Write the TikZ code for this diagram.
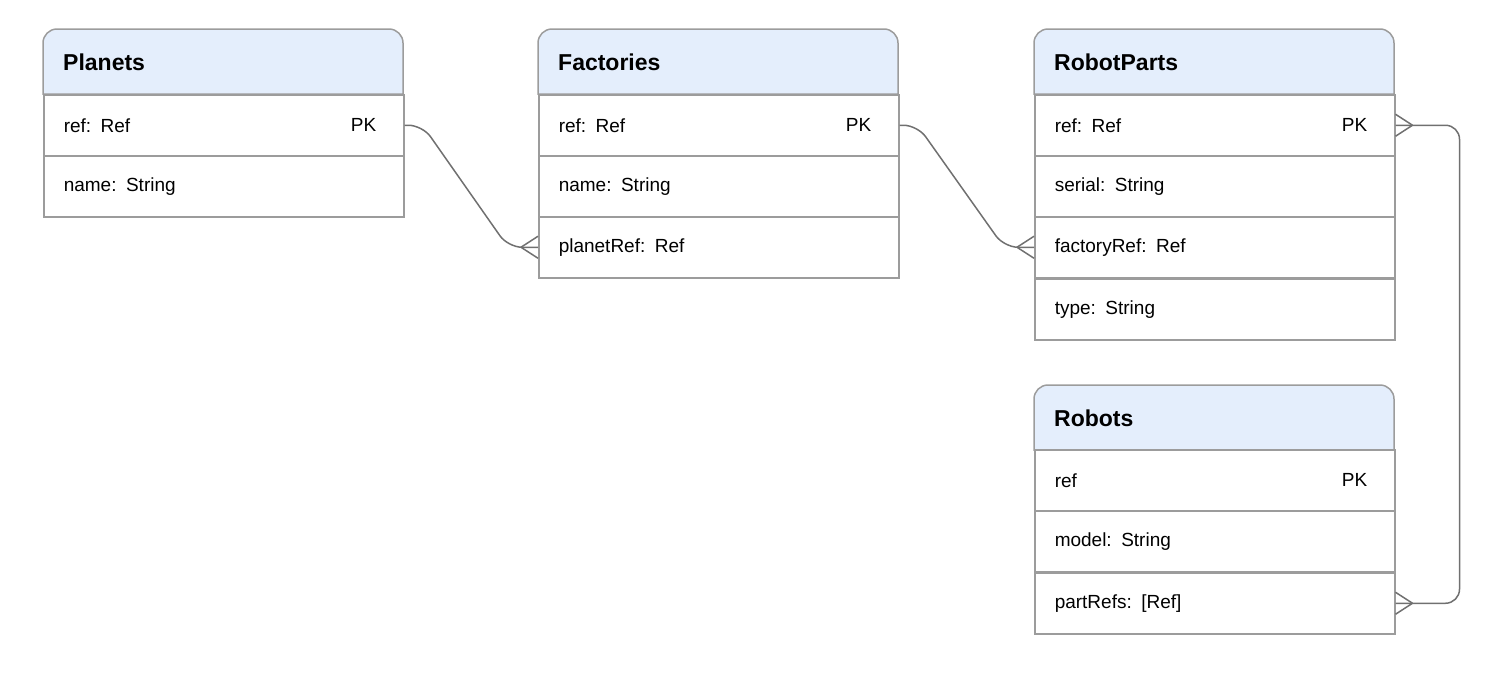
\documentclass[tikz,border=0pt]{standalone}
\usepackage{fontspec}
\setmainfont{Liberation Sans}
\usetikzlibrary{calc}
\definecolor{hd}{HTML}{E4EEFC}
\definecolor{bd}{HTML}{9C9C9C}
\definecolor{cn}{HTML}{707070}
\tikzset{x=1pt,y=-1pt,
 row/.style={draw=bd,line width=1.5pt,minimum height=61pt,text width=320pt,inner xsep=20pt,align=left,anchor=north west,font=\fontsize{19}{22}\selectfont},
 pk/.style={anchor=east,inner sep=0pt,font=\fontsize{19}{22}\selectfont},
 ttl/.style={anchor=west,inner sep=0pt,font=\bfseries\fontsize{23}{26}\selectfont},
 con/.style={draw=cn,line width=1.5pt,rounded corners=14pt},
 crow/.style={draw=cn,line width=1.5pt}}
\newcommand{\hdr}[4]{% x, ytop, name, title
 \filldraw[fill=hd,draw=bd,line width=1.5pt] (#1,#2+65) [rounded corners=14pt] -- (#1,#2) -- (#1+360,#2) [sharp corners] -- (#1+360,#2+65) -- cycle;
 \node[ttl] (#3) at (#1+20,#2+33) {#4};}
\begin{document}
\begin{tikzpicture}
\useasboundingbox (0,0) rectangle (1500,675);
% Planets
\hdr{43}{29}{pt}{Planets}
\node[row] (p1) at (43,94) {ref: Ref};
\node[row] (p2) at (43,155) {name: String};
\node[pk] at ($(p1.east)+(-28,0)$) {PK};
% Factories
\hdr{538}{29}{ft}{Factories}
\node[row] (f1) at (538,94) {ref: Ref};
\node[row] (f2) at (538,155) {name: String};
\node[row] (f3) at (538,216) {planetRef: Ref};
\node[pk] at ($(f1.east)+(-28,0)$) {PK};
% RobotParts
\hdr{1034}{29}{rt}{RobotParts}
\node[row] (r1) at (1034,94) {ref: Ref};
\node[row] (r2) at (1034,155) {serial: String};
\node[row] (r3) at (1034,216) {factoryRef: Ref};
\node[row] (r4) at (1034,278) {type: String};
\node[pk] at ($(r1.east)+(-28,0)$) {PK};
% Robots
\hdr{1034}{385}{bt}{Robots}
\node[row] (b1) at (1034,449) {ref};
\node[row] (b2) at (1034,510) {model: String};
\node[row] (b3) at (1034,572) {partRefs: [Ref]};
\node[pk] at ($(b1.east)+(-28,0)$) {PK};
% connectors
\draw[con] (p1.east) -- ($(p1.east)+(18,0)$) -- ($(f3.west)+(-30,0)$) -- (f3.west);
\draw[crow] ($(f3.west)+(-17,0)$) -- ($(f3.west)+(0,-11)$) ($(f3.west)+(-17,0)$) -- ($(f3.west)+(0,11)$);
\draw[con] (f1.east) -- ($(f1.east)+(18,0)$) -- ($(r3.west)+(-30,0)$) -- (r3.west);
\draw[crow] ($(r3.west)+(-17,0)$) -- ($(r3.west)+(0,-11)$) ($(r3.west)+(-17,0)$) -- ($(r3.west)+(0,11)$);
\draw[con] (r1.east) -- ($(r1.east)+(64,0)$) -- ($(b3.east)+(64,0)$) -- (b3.east);
\draw[crow] ($(r1.east)+(17,0)$) -- ($(r1.east)+(0,-11)$) ($(r1.east)+(17,0)$) -- ($(r1.east)+(0,11)$);
\draw[crow] ($(b3.east)+(17,0)$) -- ($(b3.east)+(0,-11)$) ($(b3.east)+(17,0)$) -- ($(b3.east)+(0,11)$);
\end{tikzpicture}
\end{document}
